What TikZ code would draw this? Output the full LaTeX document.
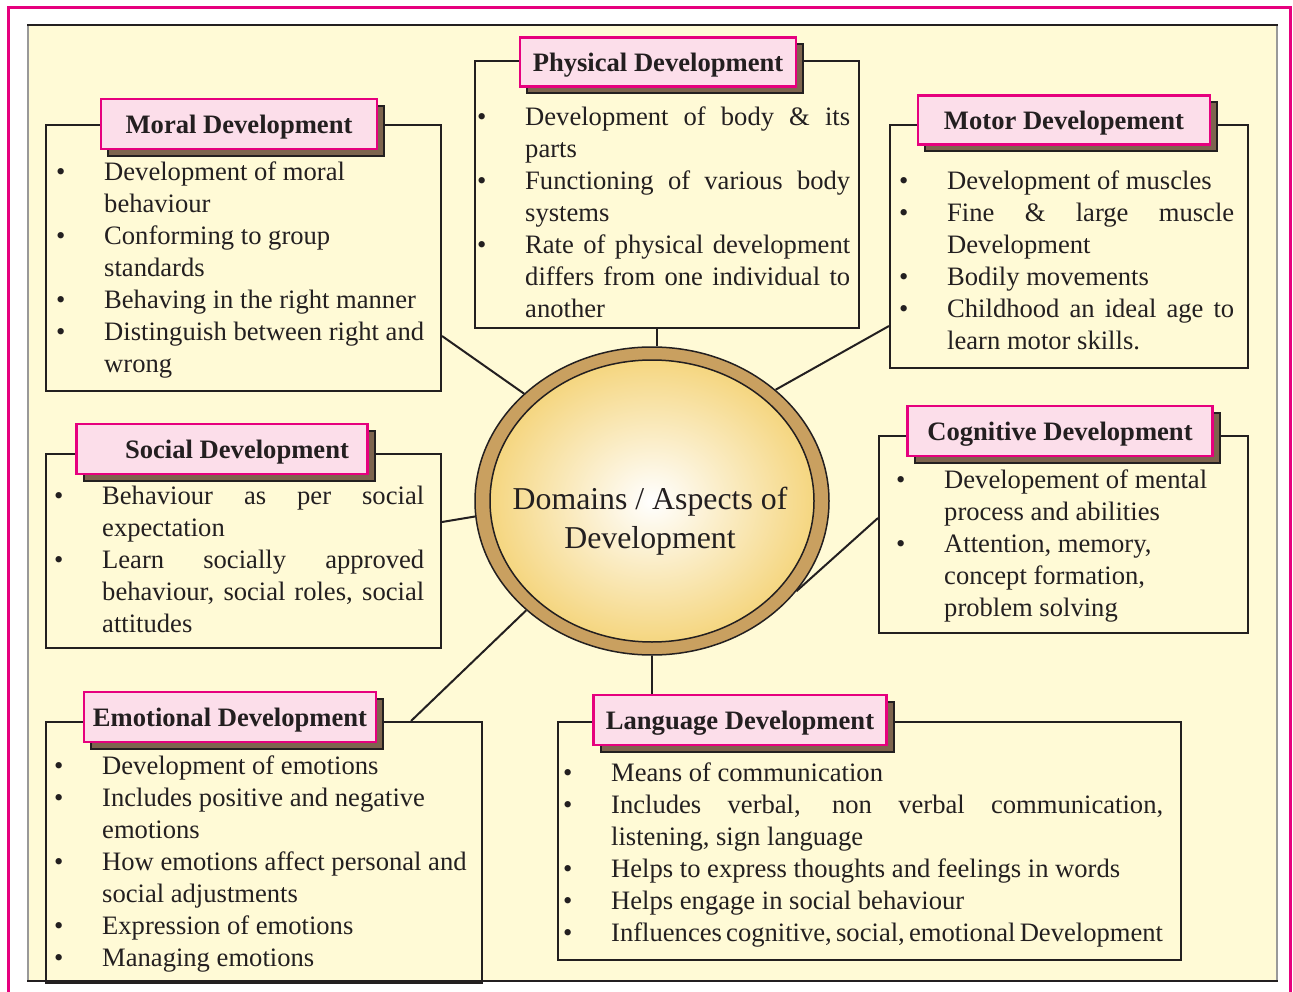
\documentclass[tikz,border=0pt]{standalone}
\usepackage{fontspec}
\setmainfont{Liberation Serif}
\usetikzlibrary{shapes.geometric,shadows,calc,positioning}

\definecolor{pinkline}{RGB}{230,0,126}
\definecolor{pinkfill}{RGB}{252,222,234}
\definecolor{shadowbrown}{RGB}{125,100,78}
\definecolor{bgyel}{RGB}{255,250,214}
\definecolor{ringtan}{RGB}{201,160,96}
\definecolor{domgold}{RGB}{245,214,128}
\definecolor{linedark}{RGB}{35,31,32}

% one bullet line of a panel
\newcommand{\bul}[1]{\noindent\hyphenpenalty=10000\hangindent=48pt\hangafter=1\makebox[48pt][l]{\textbullet}#1\par}

\begin{document}
\begin{tikzpicture}[x=1pt,y=-1pt]

        % Setup the styles for the panels
        \tikzset{panel/.style={draw=linedark, line width=2pt,
                               anchor=north west, inner sep=0pt},
                 tab style/.style={draw=pinkline, fill=pinkfill,
                                   line width=2.5pt, inner sep=0pt,
                                   minimum height=49pt, text=linedark, text depth=0pt,
                                   font=\fontsize{26.6}{32}\bfseries\selectfont,
                                   drop shadow={shadow xshift=7pt, shadow yshift=-7pt,
                                                fill=shadowbrown, draw=linedark,
                                                line width=2pt, opacity=1}},
                 list style/.style={anchor=base west, inner sep=0pt, text=linedark,
                                    align=justify, font=\fontsize{26.6}{32}\selectfont},
                 link/.style={draw=linedark, line width=2pt}}

        % Page frame
        \useasboundingbox (0,0) rectangle (1293,992);
        \draw[draw=pinkline, line width=3pt, fill=white] (8,8) rectangle (1290,1010);
        \draw[draw=black!40, line width=2pt, fill=bgyel] (28,25) rectangle (1277,981);
        \draw[draw=linedark, line width=2pt] (27,25) -- (1278,25) (27,981) -- (1278,981);

        % Draw the centre
        \node[ellipse, minimum width=354pt, minimum height=308pt, fill=ringtan,
              draw=linedark, line width=1.5pt] (dom) at (652,501) {};
        \node[ellipse, minimum width=324pt, minimum height=282pt, draw=linedark,
              line width=1.5pt, inner color=white, outer color=domgold] (domin) at (652,501) {};
        \node[align=center, text=linedark, font=\fontsize{31.8}{39}\selectfont]
            (domtxt) at (650,521) {Domains / Aspects of\\Development};

        % Physical
        \node[panel, minimum width=384pt, minimum height=267pt] (phys) at (474,60) {};
        \node[tab style, minimum width=276pt] (phystab) at (658,62) {Physical Development};
        \node[list style, text width=373pt] (phystxt) at (477,126)
            {\bul{Development of body \& its\linebreak parts}
             \bul{Functioning of various body\linebreak systems}
             \bul{Rate of physical development\linebreak differs from one individual to\linebreak another}};

        % Moral
        \node[panel, minimum width=395pt, minimum height=266pt] (moral) at (45,124) {};
        \node[tab style, minimum width=276pt, minimum height=50pt] (moraltab) at (239,124) {Moral Development};
        \node[list style, text width=380pt] (moraltxt) at (56,181)
            {\raggedright
             \bul{Development of moral\linebreak behaviour}
             \bul{Conforming to group\linebreak standards}
             \bul{Behaving in the right manner}
             \bul{Distinguish between right and\linebreak wrong}};

        % Motor
        \node[panel, minimum width=358pt, minimum height=243pt] (motor) at (889,124) {};
        \node[tab style, minimum width=292pt] (motortab) at (1064,120) {Motor Developement};
        \node[list style, text width=335pt] (motortxt) at (899,190)
            {\bul{Development of muscles}
             \bul{Fine \& large muscle\linebreak Development}
             \bul{Bodily movements}
             \bul{Childhood an ideal age to\linebreak learn motor skills.}};

        % Social
        \node[panel, minimum width=395pt, minimum height=194pt] (social) at (45,453) {};
        \node[tab style, minimum width=291pt, minimum height=50pt] (socialtab) at (222,449)
            {\hspace*{30pt}Social Development};
        \node[list style, text width=370pt] (socialtxt) at (54,504)
            {\bul{Behaviour as per social\linebreak expectation}
             \bul{Learn socially approved\linebreak behaviour, social roles, social\linebreak attitudes}};

        % Cognitive
        \node[panel, minimum width=369pt, minimum height=197pt] (cog) at (878,435) {};
        \node[tab style, minimum width=305pt, minimum height=50pt] (cogtab) at (1060,431) {Cognitive Development};
        \node[list style, text width=344pt] (cogtxt) at (896,488)
            {\raggedright
             \bul{Developement of mental\linebreak process and abilities}
             \bul{Attention, memory,\linebreak concept formation,\linebreak problem solving}};

        % Emotional
        \node[panel, minimum width=436pt, minimum height=261pt] (emo) at (45,721) {};
        \node[tab style, minimum width=292pt, minimum height=50pt] (emotab) at (230,717) {Emotional Development};
        \node[list style, text width=421pt] (emotxt) at (54,774)
            {\raggedright
             \bul{Development of emotions}
             \bul{Includes positive and negative\linebreak emotions}
             \bul{How emotions affect personal and\linebreak social adjustments}
             \bul{Expression of emotions}
             \bul{Managing emotions}};

        % Language
        \node[panel, minimum width=623pt, minimum height=238pt] (lang) at (557,721) {};
        \node[tab style, minimum width=293pt, minimum height=50pt] (langtab) at (740,720) {Language Development};
        \node[list style, text width=600pt] (langtxt) at (563,781)
            {\bul{Means of communication}
             \bul{Includes verbal, non verbal communication,\linebreak listening, sign language}
             \bul{Helps to express thoughts and feelings in words}
             \bul{Helps engage in social behaviour}
             \bul{\spaceskip=0.16em plus 0.02em\relax
                  Influences cognitive, social, emotional Development}};

        % Connect the panels with the centre
        \draw[link] (dom.88) -- (dom.88 |- phys.south);
        \draw[link] (dom.south) -- (dom.south |- langtab.north);
        \draw[link] ($(moral.south east)+(0,-56)$) -- (dom.140);
        \draw[link] ($(motor.south west)+(0,-43)$) -- (dom.42);
        \draw[link] ($(social.south east)+(0,-127)$) -- (dom.185);
        \draw[link] ($(cog.north west)+(0,83)$) -- (dom.328);
        \draw[link] ($(emo.north west)+(366,0)$) -- (dom.221);
\end{tikzpicture}
\end{document}
